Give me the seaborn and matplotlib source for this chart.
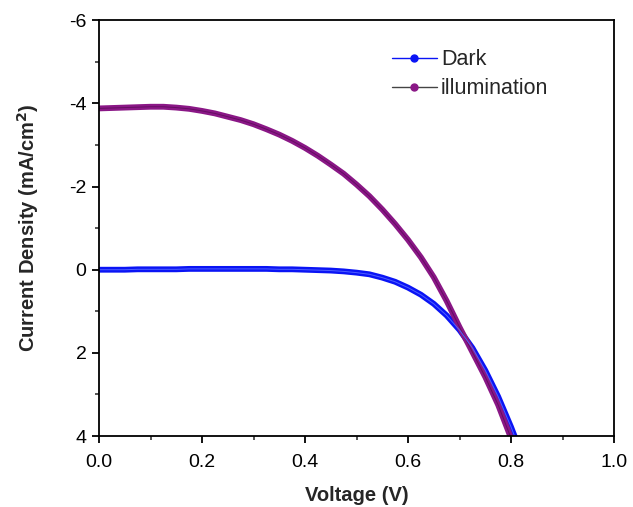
import matplotlib
matplotlib.use("Agg")
import matplotlib.pyplot as plt
from matplotlib.lines import Line2D
from matplotlib.ticker import MultipleLocator, FormatStrFormatter
import seaborn as sns
import pandas as pd

# ---- data ----
dark_v = [0.000, 0.025, 0.050, 0.075, 0.100, 0.125, 0.150, 0.175, 0.200, 0.225,
          0.250, 0.275, 0.300, 0.325, 0.350, 0.375, 0.400, 0.425, 0.450, 0.475,
          0.500, 0.525, 0.550, 0.575, 0.600, 0.625, 0.650, 0.675, 0.700, 0.725,
          0.750, 0.775, 0.800, 0.810]
dark_j = [0.00, 0.00, 0.00, -0.01, -0.01, -0.01, -0.01, -0.02, -0.02, -0.02,
          -0.02, -0.02, -0.02, -0.02, -0.01, -0.01, 0.00, 0.01, 0.02, 0.04,
          0.07, 0.11, 0.19, 0.29, 0.43, 0.60, 0.82, 1.10, 1.45, 1.88,
          2.42, 3.05, 3.78, 4.10]

illum_v = [0.000, 0.025, 0.050, 0.075, 0.100, 0.125, 0.150, 0.175, 0.200, 0.225,
           0.250, 0.275, 0.300, 0.325, 0.350, 0.375, 0.400, 0.425, 0.450, 0.475,
           0.500, 0.525, 0.550, 0.575, 0.600, 0.625, 0.650, 0.675, 0.700, 0.725,
           0.750, 0.775, 0.800, 0.805]
illum_j = [-3.88, -3.89, -3.90, -3.91, -3.92, -3.92, -3.90, -3.87, -3.82, -3.76,
           -3.68, -3.60, -3.50, -3.38, -3.25, -3.10, -2.93, -2.74, -2.53, -2.31,
           -2.05, -1.77, -1.45, -1.10, -0.72, -0.30, 0.18, 0.75, 1.38, 1.98,
           2.58, 3.25, 4.05, 4.20]

series_names = ["Dark", "illumination"]
x_ticks = [0.0, 0.2, 0.4, 0.6, 0.8, 1.0]
y_ticks = [-6, -4, -2, 0, 2, 4]

df = pd.concat([
    pd.DataFrame({"V": dark_v, "J": dark_j, "series": series_names[0]}),
    pd.DataFrame({"V": illum_v, "J": illum_j, "series": series_names[1]}),
], ignore_index=True)

sns.set_theme(style="ticks")
plt.rcParams["font.family"] = ["Liberation Sans", "DejaVu Sans"]
plt.rcParams["axes.unicode_minus"] = False

BLUE = "#0a14f5"
PURPLE = "#8a1786"
colors = {"Dark": BLUE, "illumination": PURPLE}

fig = plt.figure(figsize=(6.33, 5.07), dpi=100)
ax = fig.add_axes([0.1564, 0.140, 0.8136, 0.820])

# thick bands (dense markers look)
sns.lineplot(data=df, x="V", y="J", hue="series", palette=colors, sort=False,
             estimator=None, linewidth=4.2, legend=False, ax=ax)
# center lines
sns.lineplot(data=df[df.series == "illumination"], x="V", y="J", sort=False,
             estimator=None, color="#650d62", linewidth=0.7, legend=False, ax=ax)
sns.lineplot(data=df[df.series == "Dark"], x="V", y="J", sort=False,
             estimator=None, color="#5060ff", linewidth=0.7, legend=False, ax=ax)

ax.set_xlim(0, 1.0)
ax.set_ylim(4, -6)
ax.set_xticks(x_ticks)
ax.set_yticks(y_ticks)
ax.xaxis.set_major_formatter(FormatStrFormatter("%.1f"))
ax.yaxis.set_major_formatter(FormatStrFormatter("%d"))
ax.xaxis.set_minor_locator(MultipleLocator(0.1))
ax.yaxis.set_minor_locator(MultipleLocator(1))

for s in ax.spines.values():
    s.set_linewidth(1.3)
    s.set_color("black")
ax.tick_params(which="major", direction="out", length=5, width=1.3,
               labelsize=14, colors="black", top=False, right=False)
ax.tick_params(axis="x", which="major", pad=8)
ax.tick_params(axis="y", which="major", pad=4)
ax.tick_params(which="minor", direction="out", length=3, width=1.1,
               top=False, right=False, left=True, bottom=True)

ax.set_xlabel("Voltage (V)", fontsize=14.5, fontweight="bold", labelpad=11)
ax.set_ylabel("Current Density (mA/cm$^{\\mathbf{2}}$)", fontsize=14.5,
              fontweight="bold", labelpad=20)

handles = [
    Line2D([0], [0], color=BLUE, lw=1.0, marker="o", markersize=5,
           markerfacecolor=BLUE, markeredgecolor=BLUE),
    Line2D([0], [0], color="#444444", lw=1.0, marker="o", markersize=5,
           markerfacecolor=PURPLE, markeredgecolor=PURPLE),
]
ax.legend(handles, series_names, loc="upper left", bbox_to_anchor=(0.568, 0.93),
          frameon=False, fontsize=15.5, handlelength=2.1, handletextpad=0.2,
          borderpad=0, borderaxespad=0, labelspacing=0.36)

fig.savefig("out.png", dpi=100)
